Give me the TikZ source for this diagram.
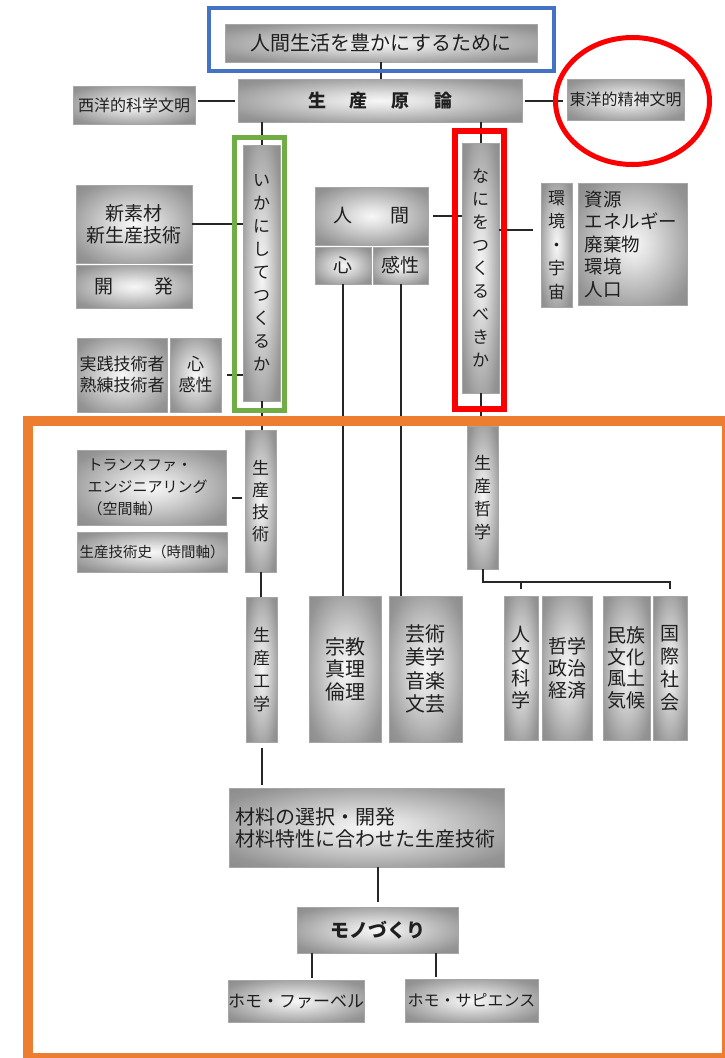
\documentclass[tikz,border=0pt]{standalone}
\usepackage{fontspec}
\setmainfont{Noto Sans CJK JP}
\usetikzlibrary{calc}
\definecolor{hlblue}{RGB}{68,114,196}
\definecolor{hlred}{RGB}{250,0,0}
\definecolor{hlgreen}{RGB}{112,173,71}
\definecolor{hlorange}{RGB}{237,125,49}
\colorlet{gA}{black!3}
\colorlet{gB}{black!12}
\colorlet{gC}{black!42}
\colorlet{gD}{black!52}
\pgfdeclareradialshading{glow}{\pgfpoint{0bp}{0bp}}{color(0bp)=(gA); color(8bp)=(gB); color(30bp)=(gC); color(50bp)=(gD)}
\newcommand\fsz[2]{\fontsize{#1pt}{#2pt}\selectfont}
\newcommand\gb[7][]{\node[gbox,#1,minimum width={(#4-#2)*1pt},minimum height={(#5-#3)*1pt}] (#6) at ({(#2+#4)/2},{(#3+#5)/2}) {#7};}
\begin{document}
\begin{tikzpicture}[x=1pt,y=-1pt,
  gbox/.style={shading=glow, draw=black!35, line width=0.5pt, inner sep=0pt, text=black!88},
  conn/.style={draw=black!85, line width=2pt},
  vt/.style={align=center, font=\fsz{17}{23}}]
\useasboundingbox (0,0) rectangle (725,1058);
\fill[white] (0,0) rectangle (725,1058);

% boxes
\gb[font=\fsz{20}{24}]{225}{24}{537}{62}{top}{人間生活を豊かにするために}
\gb[font=\fsz{18}{22}\bfseries]{238}{79}{522}{122}{genron}{生\hspace{24pt}産\hspace{24pt}原\hspace{24pt}論\hspace{16pt}}
\gb[font=\fsz{16}{20}]{73}{86}{195}{124}{seiyo}{西洋的科学文明}
\gb[font=\fsz{16}{20}]{567}{79}{684}{120}{toyo}{東洋的精神文明}
\gb[vt]{243}{145}{280}{401}{ikani}{い\\か\\に\\し\\て\\つ\\く\\る\\か}
\gb[vt]{462}{143}{499}{393}{nani}{な\\に\\を\\つ\\く\\る\\べ\\き\\か}
\gb[align=center,font=\fsz{19}{22}]{76}{185}{192}{263}{nsz}{新素材\\新生産技術}
\gb[font=\fsz{19}{22}]{76}{265}{192}{308}{kaihatsu}{開\hspace{41pt}発}
\gb[align=center,font=\fsz{17}{21}]{77}{338}{167}{412}{jissen}{実践技術者\\熟練技術者}
\gb[align=center,font=\fsz{17}{21}]{170}{338}{221}{412}{kk2}{心\\感性}
\gb[font=\fsz{19}{22}]{315}{187}{428}{245}{ningen}{人\hspace{39pt}間}
\gb[font=\fsz{19}{22}]{315}{247}{371}{284}{kokoro}{心}
\gb[font=\fsz{19}{22}]{373}{247}{428}{284}{kansei}{感性}
\gb[align=center,font=\fsz{17}{23.5}]{541}{183}{572}{307}{kankyo}{環\\境\\・\\宇\\宙}
\gb[align=left,text width=96pt,font=\fsz{18.5}{22.5}]{578}{183}{687}{305}{shigen}{資源\\エネルギー\\廃棄物\\環境\\人口}
\gb[vt,font=\fsz{17}{22}]{245}{430}{276}{572}{gt}{生\\産\\技\\術}
\gb[align=left,text width=128pt,font=\fsz{15}{22}]{77}{450}{226}{525}{tf}{トランスファ・\\エンジニアリング\\（空間軸）}
\gb[font=\fsz{14.5}{20}]{77}{532}{227}{572}{gshi}{生産技術史（時間軸）}
\gb[vt]{246}{597}{277}{742}{gk}{生\\産\\工\\学}
\gb[vt]{467}{426}{498}{569}{gtetsu}{生\\産\\哲\\学}
\gb[align=center,font=\fsz{20}{22.5}]{309}{596}{381}{742}{shukyo}{宗教\\真理\\倫理}
\gb[align=center,font=\fsz{20}{23.5}]{389}{596}{462}{742}{geijutsu}{芸術\\美学\\音楽\\文芸}
\gb[align=center,font=\fsz{19}{22}]{504}{596}{538}{740}{jinbun}{人\\文\\科\\学}
\gb[align=center,font=\fsz{19}{22}]{542}{596}{592}{740}{tetsu}{哲学\\政治\\経済}
\gb[align=center,font=\fsz{19}{21.5}]{603}{596}{650}{740}{minzoku}{民族\\文化\\風土\\気候}
\gb[align=center,font=\fsz{19}{23}]{653}{596}{687}{740}{kokusai}{国\\際\\社\\会}
\gb[align=left,text width=262pt,font=\fsz{20}{22}]{229}{788}{504}{867}{zairyo}{材料の選択・開発\\材料特性に合わせた生産技術}
\gb[font=\fsz{19}{22}\bfseries]{297}{907}{458}{953}{mono}{モノづくり}
\gb[font=\fsz{17}{20}]{230}{980}{362}{1022}{homoF}{ホモ・ファーベル}
\gb[font=\fsz{16}{20}]{405}{979}{538}{1022}{homoS}{ホモ・サピエンス}

% connectors
\draw[conn] (top.south) -- (top.south |- genron.north);
\draw[conn,shorten <=3pt,shorten >=3pt] (genron.west) -- (genron.west -| seiyo.east);
\draw[conn,shorten <=3pt,shorten >=4pt] (genron.east) -- (genron.east -| toyo.west);
\draw[conn] (ikani.north) -- (ikani.north |- genron.south);
\draw[conn] (nani.north) -- (nani.north |- genron.south);
\draw[conn] (nsz.east) -- (nsz.east -| ikani.west);
\draw[conn,shorten <=6pt] (kk2.east) -- (kk2.east -| ikani.west);
\draw[conn,shorten <=5pt] (ningen.east) -- (ningen.east -| nani.west);
\coordinate (k1) at ($(kankyo.west)+(0,-15)$);
\draw[conn,shorten >=8pt] (k1 -| nani.east) -- (k1);
\draw[conn] (kokoro.south) -- (kokoro.south |- shukyo.north);
\draw[conn] (kansei.south) -- (kansei.south |- geijutsu.north);
\draw[conn] (ikani.south) -- (ikani.south |- gt.north);
\draw[conn] (nani.south) -- (nani.south |- gtetsu.north);
\coordinate (d1) at ($(tf.east)+(0,10.5)$);
\draw[conn,shorten <=6pt,shorten >=3pt] (d1) -- (d1 -| gt.west);
\draw[conn] (gt.south) -- (gt.south |- gk.north);
\draw[conn,shorten <=6pt,shorten >=3pt] (gk.south) -- (gk.south |- zairyo.north);
\draw[conn,shorten <=5pt] (mono.north) -- (mono.north |- zairyo.south);
\coordinate (br) at ($(gtetsu.south)+(0,13)$);
\draw[conn,line join=miter] (gtetsu.south) -- (br) -- (br -| kokusai.north) -- ($(kokusai.north)+(0,-7)$);
\draw[conn] (br -| jinbun.north) -- ($(jinbun.north)+(0,-7)$);
\coordinate (h1) at ($(homoF.north)+(16,-2)$);
\draw[conn] (h1) -- (h1 |- mono.south);
\coordinate (h2) at ($(homoS.north)+(-35.5,-2)$);
\draw[conn] (h2) -- (h2 |- mono.south);

% highlight marks
\draw[hlblue, line width=4pt] (209,8) rectangle (554,71);
\draw[hlred, line width=6pt] (454.5,131) rectangle (503.5,409);
\draw[hlgreen, line width=5pt] (234.5,137.5) rectangle (284.5,410.5);
\draw[hlred, line width=5pt] (632.5,101) ellipse [x radius=77pt, y radius=63.5pt];
\draw[hlorange, line width=10pt] (27.5,420.5) rectangle (727,1058);
\end{tikzpicture}
\end{document}
